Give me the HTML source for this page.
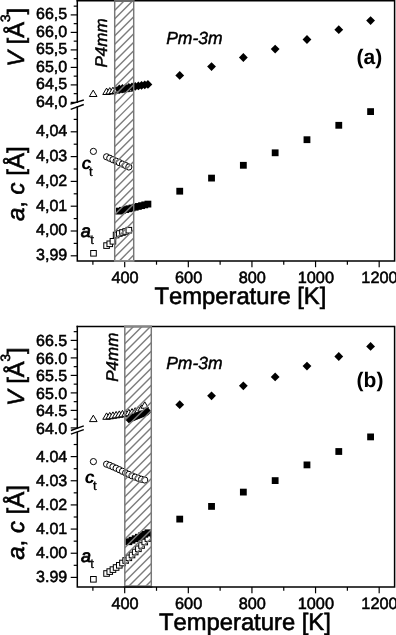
<!DOCTYPE html><html><head><meta charset="utf-8"><style>html,body{margin:0;padding:0;background:#fff;}svg{display:block;filter:grayscale(1) blur(0.3px);}</style></head><body>
<svg width="396" height="635" viewBox="0 0 396 635">
<rect width="396" height="635" fill="#fff"/>
<style>text{text-rendering:geometricPrecision;}</style>
<path d="M93.20 90.10L97.00 96.50L89.40 96.50Z" fill="#fff" stroke="#000" stroke-width="1" stroke-linejoin="miter"/>
<path d="M106.57 88.10L110.37 94.50L102.77 94.50Z" fill="#fff" stroke="#000" stroke-width="1" stroke-linejoin="miter"/>
<path d="M109.75 87.63L113.55 94.03L105.95 94.03Z" fill="#fff" stroke="#000" stroke-width="1" stroke-linejoin="miter"/>
<path d="M112.93 87.16L116.73 93.56L109.13 93.56Z" fill="#fff" stroke="#000" stroke-width="1" stroke-linejoin="miter"/>
<path d="M116.11 86.69L119.91 93.09L112.31 93.09Z" fill="#fff" stroke="#000" stroke-width="1" stroke-linejoin="miter"/>
<path d="M119.29 86.21L123.09 92.61L115.49 92.61Z" fill="#fff" stroke="#000" stroke-width="1" stroke-linejoin="miter"/>
<path d="M122.47 85.74L126.27 92.14L118.67 92.14Z" fill="#fff" stroke="#000" stroke-width="1" stroke-linejoin="miter"/>
<path d="M125.65 85.27L129.45 91.67L121.85 91.67Z" fill="#fff" stroke="#000" stroke-width="1" stroke-linejoin="miter"/>
<path d="M128.84 84.80L132.64 91.20L125.04 91.20Z" fill="#fff" stroke="#000" stroke-width="1" stroke-linejoin="miter"/>
<circle cx="93.40" cy="151.40" r="3.1" fill="#fff" stroke="#000" stroke-width="1"/>
<circle cx="106.57" cy="156.80" r="3.1" fill="#fff" stroke="#000" stroke-width="1"/>
<circle cx="109.75" cy="158.26" r="3.1" fill="#fff" stroke="#000" stroke-width="1"/>
<circle cx="112.93" cy="159.71" r="3.1" fill="#fff" stroke="#000" stroke-width="1"/>
<circle cx="116.11" cy="161.17" r="3.1" fill="#fff" stroke="#000" stroke-width="1"/>
<circle cx="119.29" cy="162.63" r="3.1" fill="#fff" stroke="#000" stroke-width="1"/>
<circle cx="122.47" cy="164.09" r="3.1" fill="#fff" stroke="#000" stroke-width="1"/>
<circle cx="125.65" cy="165.54" r="3.1" fill="#fff" stroke="#000" stroke-width="1"/>
<circle cx="128.84" cy="167.00" r="3.1" fill="#fff" stroke="#000" stroke-width="1"/>
<rect x="90.70" y="250.50" width="5.6" height="5.6" fill="#fff" stroke="#000" stroke-width="1"/>
<rect x="103.77" y="242.80" width="5.6" height="5.6" fill="#fff" stroke="#000" stroke-width="1"/>
<rect x="106.95" y="241.00" width="5.6" height="5.6" fill="#fff" stroke="#000" stroke-width="1"/>
<rect x="110.13" y="238.50" width="5.6" height="5.6" fill="#fff" stroke="#000" stroke-width="1"/>
<rect x="113.31" y="232.20" width="5.6" height="5.6" fill="#fff" stroke="#000" stroke-width="1"/>
<rect x="116.49" y="230.70" width="5.6" height="5.6" fill="#fff" stroke="#000" stroke-width="1"/>
<rect x="119.67" y="229.70" width="5.6" height="5.6" fill="#fff" stroke="#000" stroke-width="1"/>
<rect x="122.85" y="228.70" width="5.6" height="5.6" fill="#fff" stroke="#000" stroke-width="1"/>
<rect x="126.04" y="227.40" width="5.6" height="5.6" fill="#fff" stroke="#000" stroke-width="1"/>
<path d="M119.29 84.60L123.69 89.00L119.29 93.40L114.89 89.00Z" fill="#000"/>
<path d="M122.47 84.09L126.87 88.49L122.47 92.89L118.07 88.49Z" fill="#000"/>
<path d="M125.65 83.58L130.05 87.98L125.65 92.38L121.25 87.98Z" fill="#000"/>
<path d="M128.84 83.07L133.24 87.47L128.84 91.87L124.44 87.47Z" fill="#000"/>
<path d="M132.02 82.56L136.42 86.96L132.02 91.36L127.62 86.96Z" fill="#000"/>
<path d="M135.20 82.04L139.60 86.44L135.20 90.84L130.80 86.44Z" fill="#000"/>
<path d="M138.38 81.53L142.78 85.93L138.38 90.33L133.98 85.93Z" fill="#000"/>
<path d="M141.56 81.02L145.96 85.42L141.56 89.82L137.16 85.42Z" fill="#000"/>
<path d="M144.74 80.51L149.14 84.91L144.74 89.31L140.34 84.91Z" fill="#000"/>
<path d="M147.92 80.00L152.32 84.40L147.92 88.80L143.52 84.40Z" fill="#000"/>
<path d="M179.73 71.00L184.13 75.40L179.73 79.80L175.33 75.40Z" fill="#000"/>
<path d="M211.54 62.20L215.94 66.60L211.54 71.00L207.14 66.60Z" fill="#000"/>
<path d="M243.35 53.10L247.75 57.50L243.35 61.90L238.95 57.50Z" fill="#000"/>
<path d="M275.16 44.70L279.56 49.10L275.16 53.50L270.76 49.10Z" fill="#000"/>
<path d="M306.97 35.10L311.37 39.50L306.97 43.90L302.57 39.50Z" fill="#000"/>
<path d="M338.78 25.30L343.18 29.70L338.78 34.10L334.38 29.70Z" fill="#000"/>
<path d="M370.59 16.20L374.99 20.60L370.59 25.00L366.19 20.60Z" fill="#000"/>
<rect x="115.89" y="207.70" width="6.8" height="6.8" fill="#000"/>
<rect x="119.07" y="206.92" width="6.8" height="6.8" fill="#000"/>
<rect x="122.25" y="206.14" width="6.8" height="6.8" fill="#000"/>
<rect x="125.44" y="205.37" width="6.8" height="6.8" fill="#000"/>
<rect x="128.62" y="204.59" width="6.8" height="6.8" fill="#000"/>
<rect x="131.80" y="203.81" width="6.8" height="6.8" fill="#000"/>
<rect x="134.98" y="203.03" width="6.8" height="6.8" fill="#000"/>
<rect x="138.16" y="202.26" width="6.8" height="6.8" fill="#000"/>
<rect x="141.34" y="201.48" width="6.8" height="6.8" fill="#000"/>
<rect x="144.52" y="200.70" width="6.8" height="6.8" fill="#000"/>
<rect x="176.33" y="187.80" width="6.8" height="6.8" fill="#000"/>
<rect x="208.14" y="174.70" width="6.8" height="6.8" fill="#000"/>
<rect x="239.95" y="161.90" width="6.8" height="6.8" fill="#000"/>
<rect x="271.76" y="149.40" width="6.8" height="6.8" fill="#000"/>
<rect x="303.57" y="136.30" width="6.8" height="6.8" fill="#000"/>
<rect x="335.38" y="121.90" width="6.8" height="6.8" fill="#000"/>
<rect x="367.19" y="108.20" width="6.8" height="6.8" fill="#000"/>
<g stroke="#000" stroke-width="1.5" fill="none" stroke-linecap="square">
<path d="M77.3 0.7H394.6V260.9H77.3V106.9"/>
<path d="M77.3 0.7V102.2"/>
</g>
<g stroke="#000" stroke-width="1.2">
<path d="M92.89 260.9V264.70"/>
<path d="M124.70 260.9V267.20"/>
<path d="M156.51 260.9V264.70"/>
<path d="M188.32 260.9V267.20"/>
<path d="M220.13 260.9V264.70"/>
<path d="M251.94 260.9V267.20"/>
<path d="M283.75 260.9V264.70"/>
<path d="M315.56 260.9V267.20"/>
<path d="M347.37 260.9V264.70"/>
<path d="M379.18 260.9V267.20"/>
<path d="M77.3 93.65H73.70"/>
<path d="M77.3 84.90H70.70"/>
<path d="M77.3 76.15H73.70"/>
<path d="M77.3 67.40H70.70"/>
<path d="M77.3 58.65H73.70"/>
<path d="M77.3 49.90H70.70"/>
<path d="M77.3 41.15H73.70"/>
<path d="M77.3 32.40H70.70"/>
<path d="M77.3 23.65H73.70"/>
<path d="M77.3 14.90H70.70"/>
<path d="M77.3 6.15H73.70"/>
<path d="M77.3 255.80H70.70"/>
<path d="M77.3 243.40H73.70"/>
<path d="M77.3 231.00H70.70"/>
<path d="M77.3 218.60H73.70"/>
<path d="M77.3 206.20H70.70"/>
<path d="M77.3 193.80H73.70"/>
<path d="M77.3 181.40H70.70"/>
<path d="M77.3 169.00H73.70"/>
<path d="M77.3 156.60H70.70"/>
<path d="M77.3 144.20H73.70"/>
<path d="M77.3 131.80H70.70"/>
<path d="M77.3 119.40H73.70"/>
<path d="M77.3 102.40H70.70"/>
</g>
<g stroke="#000" stroke-width="1.4">
<path d="M70.4 104.1L83.8 100.0"/>
<path d="M70.7 109.3L83.8 104.5"/>
</g>
<clipPath id="clipa"><rect x="114.7" y="0.7" width="18.999999999999986" height="260.2"/></clipPath>
<g clip-path="url(#clipa)" stroke="#7c7c7c" stroke-width="1.4">
<path d="M109.70 15.30L138.70 -13.70"/>
<path d="M109.70 23.81L138.70 -5.19"/>
<path d="M109.70 32.32L138.70 3.32"/>
<path d="M109.70 40.83L138.70 11.83"/>
<path d="M109.70 49.34L138.70 20.34"/>
<path d="M109.70 57.85L138.70 28.85"/>
<path d="M109.70 66.36L138.70 37.36"/>
<path d="M109.70 74.87L138.70 45.87"/>
<path d="M109.70 83.38L138.70 54.38"/>
<path d="M109.70 91.89L138.70 62.89"/>
<path d="M109.70 100.40L138.70 71.40"/>
<path d="M109.70 108.91L138.70 79.91"/>
<path d="M109.70 117.42L138.70 88.42"/>
<path d="M109.70 125.93L138.70 96.93"/>
<path d="M109.70 134.44L138.70 105.44"/>
<path d="M109.70 142.95L138.70 113.95"/>
<path d="M109.70 151.46L138.70 122.46"/>
<path d="M109.70 159.97L138.70 130.97"/>
<path d="M109.70 168.48L138.70 139.48"/>
<path d="M109.70 176.99L138.70 147.99"/>
<path d="M109.70 185.50L138.70 156.50"/>
<path d="M109.70 194.01L138.70 165.01"/>
<path d="M109.70 202.52L138.70 173.52"/>
<path d="M109.70 211.03L138.70 182.03"/>
<path d="M109.70 219.54L138.70 190.54"/>
<path d="M109.70 228.05L138.70 199.05"/>
<path d="M109.70 236.56L138.70 207.56"/>
<path d="M109.70 245.07L138.70 216.07"/>
<path d="M109.70 253.58L138.70 224.58"/>
<path d="M109.70 262.09L138.70 233.09"/>
<path d="M109.70 270.60L138.70 241.60"/>
<path d="M109.70 279.11L138.70 250.11"/>
<path d="M109.70 287.62L138.70 258.62"/>
</g>
<rect x="114.7" y="0.7" width="18.999999999999986" height="260.2" fill="none" stroke="#777" stroke-width="1.45"/>
<path d="M114.10000000000001 0.7H134.29999999999998" stroke="#666" stroke-width="1.7"/>
<path d="M114.10000000000001 260.9H134.29999999999998" stroke="#8c8c8c" stroke-width="1.7"/>
<g style='font-family:"Liberation Sans", sans-serif;font-size:16px' fill="#000" stroke="#000" stroke-width="0.55" text-anchor="end">
<text x="67.2" y="106.80">64,0</text>
<text x="67.2" y="89.30">64,5</text>
<text x="67.2" y="71.80">65,0</text>
<text x="67.2" y="54.30">65,5</text>
<text x="67.2" y="36.80">66,0</text>
<text x="67.2" y="19.30">66,5</text>
<text x="67.2" y="260.20">3,99</text>
<text x="67.2" y="235.40">4,00</text>
<text x="67.2" y="210.60">4,01</text>
<text x="67.2" y="185.80">4,02</text>
<text x="67.2" y="161.00">4,03</text>
<text x="67.2" y="136.20">4,04</text>
</g>
<g style='font-family:"Liberation Sans", sans-serif;font-size:16.3px' fill="#000" stroke="#000" stroke-width="0.55" text-anchor="middle">
<text x="125.00" y="283.10">400</text>
<text x="188.62" y="283.10">600</text>
<text x="252.24" y="283.10">800</text>
<text x="315.86" y="283.10">1000</text>
<text x="379.48" y="283.10">1200</text>
</g>
<text x="154.4" y="303.8" stroke="#000" stroke-width="0.6" style='font-family:"Liberation Sans", sans-serif;font-size:23.8px;font-kerning:none'>Temperature [K]</text>
<text transform="translate(23.6,66.70) rotate(-90)" stroke="#000" stroke-width="0.6" style='font-family:"Liberation Sans", sans-serif;font-size:23.6px'><tspan style="font-style:italic">V</tspan> [Å<tspan dy="-13.3" style="font-size:13.5px">3</tspan><tspan dy="13.3">]</tspan></text>
<text transform="translate(24,221.10) rotate(-90)" stroke="#000" stroke-width="0.6" style='font-family:"Liberation Sans", sans-serif;font-size:24px'><tspan style="font-style:italic">a</tspan>, <tspan style="font-style:italic">c</tspan> [Å]</text>
<text transform="translate(107,67.5) rotate(-90)" stroke="#000" stroke-width="0.45" style='font-family:"Liberation Sans", sans-serif;font-size:17px;font-style:italic'>P4mm</text>
<text x="166.2" y="43.8" stroke="#000" stroke-width="0.45" style='font-family:"Liberation Sans", sans-serif;font-size:17.5px;font-style:italic'>Pm-3m</text>
<text x="356.6" y="63.9" style='font-family:"Liberation Sans", sans-serif;font-size:21px;font-weight:bold'>(a)</text>
<text x="81.4" y="169" style='font-family:"Liberation Sans", sans-serif;font-size:17.6px;font-weight:bold;font-style:italic'>c</text>
<text x="89.1" y="175.7" stroke="#000" stroke-width="0.35" style='font-family:"Liberation Sans", sans-serif;font-size:13px'>t</text>
<text x="80.8" y="236.5" stroke="#000" stroke-width="0.8" style='font-family:"Liberation Sans", sans-serif;font-size:18px;font-style:italic'>a</text>
<text x="90.2" y="243.6" stroke="#000" stroke-width="0.35" style='font-family:"Liberation Sans", sans-serif;font-size:13px'>t</text>
<path d="M93.30 415.20L97.10 421.60L89.50 421.60Z" fill="#fff" stroke="#000" stroke-width="1" stroke-linejoin="miter"/>
<path d="M106.57 412.90L110.37 419.30L102.77 419.30Z" fill="#fff" stroke="#000" stroke-width="1" stroke-linejoin="miter"/>
<path d="M109.75 412.40L113.55 418.80L105.95 418.80Z" fill="#fff" stroke="#000" stroke-width="1" stroke-linejoin="miter"/>
<path d="M112.93 411.90L116.73 418.30L109.13 418.30Z" fill="#fff" stroke="#000" stroke-width="1" stroke-linejoin="miter"/>
<path d="M116.11 411.40L119.91 417.80L112.31 417.80Z" fill="#fff" stroke="#000" stroke-width="1" stroke-linejoin="miter"/>
<path d="M119.29 410.90L123.09 417.30L115.49 417.30Z" fill="#fff" stroke="#000" stroke-width="1" stroke-linejoin="miter"/>
<path d="M122.47 410.40L126.27 416.80L118.67 416.80Z" fill="#fff" stroke="#000" stroke-width="1" stroke-linejoin="miter"/>
<path d="M125.65 409.90L129.45 416.30L121.85 416.30Z" fill="#fff" stroke="#000" stroke-width="1" stroke-linejoin="miter"/>
<path d="M128.84 409.30L132.64 415.70L125.04 415.70Z" fill="#fff" stroke="#000" stroke-width="1" stroke-linejoin="miter"/>
<path d="M132.02 408.60L135.82 415.00L128.22 415.00Z" fill="#fff" stroke="#000" stroke-width="1" stroke-linejoin="miter"/>
<path d="M135.20 407.70L139.00 414.10L131.40 414.10Z" fill="#fff" stroke="#000" stroke-width="1" stroke-linejoin="miter"/>
<path d="M138.38 406.50L142.18 412.90L134.58 412.90Z" fill="#fff" stroke="#000" stroke-width="1" stroke-linejoin="miter"/>
<path d="M141.56 404.80L145.36 411.20L137.76 411.20Z" fill="#fff" stroke="#000" stroke-width="1" stroke-linejoin="miter"/>
<path d="M144.74 401.80L148.54 408.20L140.94 408.20Z" fill="#fff" stroke="#000" stroke-width="1" stroke-linejoin="miter"/>
<circle cx="93.40" cy="461.60" r="3.1" fill="#fff" stroke="#000" stroke-width="1"/>
<circle cx="106.57" cy="464.20" r="3.1" fill="#fff" stroke="#000" stroke-width="1"/>
<circle cx="109.75" cy="465.40" r="3.1" fill="#fff" stroke="#000" stroke-width="1"/>
<circle cx="112.93" cy="466.80" r="3.1" fill="#fff" stroke="#000" stroke-width="1"/>
<circle cx="116.11" cy="468.20" r="3.1" fill="#fff" stroke="#000" stroke-width="1"/>
<circle cx="119.29" cy="469.70" r="3.1" fill="#fff" stroke="#000" stroke-width="1"/>
<circle cx="122.47" cy="471.30" r="3.1" fill="#fff" stroke="#000" stroke-width="1"/>
<circle cx="125.65" cy="472.90" r="3.1" fill="#fff" stroke="#000" stroke-width="1"/>
<circle cx="128.84" cy="474.40" r="3.1" fill="#fff" stroke="#000" stroke-width="1"/>
<circle cx="132.02" cy="475.80" r="3.1" fill="#fff" stroke="#000" stroke-width="1"/>
<circle cx="135.20" cy="477.10" r="3.1" fill="#fff" stroke="#000" stroke-width="1"/>
<circle cx="138.38" cy="478.30" r="3.1" fill="#fff" stroke="#000" stroke-width="1"/>
<circle cx="141.56" cy="479.30" r="3.1" fill="#fff" stroke="#000" stroke-width="1"/>
<circle cx="144.74" cy="480.00" r="3.1" fill="#fff" stroke="#000" stroke-width="1"/>
<rect x="90.60" y="576.50" width="5.6" height="5.6" fill="#fff" stroke="#000" stroke-width="1"/>
<rect x="103.77" y="570.70" width="5.6" height="5.6" fill="#fff" stroke="#000" stroke-width="1"/>
<rect x="106.95" y="568.80" width="5.6" height="5.6" fill="#fff" stroke="#000" stroke-width="1"/>
<rect x="110.13" y="566.80" width="5.6" height="5.6" fill="#fff" stroke="#000" stroke-width="1"/>
<rect x="113.31" y="564.70" width="5.6" height="5.6" fill="#fff" stroke="#000" stroke-width="1"/>
<rect x="116.49" y="562.50" width="5.6" height="5.6" fill="#fff" stroke="#000" stroke-width="1"/>
<rect x="119.67" y="560.20" width="5.6" height="5.6" fill="#fff" stroke="#000" stroke-width="1"/>
<rect x="122.85" y="557.70" width="5.6" height="5.6" fill="#fff" stroke="#000" stroke-width="1"/>
<rect x="126.04" y="555.00" width="5.6" height="5.6" fill="#fff" stroke="#000" stroke-width="1"/>
<rect x="129.22" y="552.20" width="5.6" height="5.6" fill="#fff" stroke="#000" stroke-width="1"/>
<rect x="132.40" y="549.20" width="5.6" height="5.6" fill="#fff" stroke="#000" stroke-width="1"/>
<rect x="135.58" y="546.00" width="5.6" height="5.6" fill="#fff" stroke="#000" stroke-width="1"/>
<rect x="138.76" y="542.70" width="5.6" height="5.6" fill="#fff" stroke="#000" stroke-width="1"/>
<rect x="141.94" y="539.20" width="5.6" height="5.6" fill="#fff" stroke="#000" stroke-width="1"/>
<rect x="145.12" y="535.80" width="5.6" height="5.6" fill="#fff" stroke="#000" stroke-width="1"/>
<path d="M128.84 415.40L132.74 419.30L128.84 423.20L124.94 419.30Z" fill="#000"/>
<path d="M129.79 415.02L133.69 418.92L129.79 422.81L125.89 418.92Z" fill="#000"/>
<path d="M130.74 414.63L134.64 418.53L130.74 422.43L126.84 418.53Z" fill="#000"/>
<path d="M131.70 414.25L135.60 418.15L131.70 422.05L127.80 418.15Z" fill="#000"/>
<path d="M132.65 413.86L136.55 417.76L132.65 421.66L128.75 417.76Z" fill="#000"/>
<path d="M133.61 413.48L137.51 417.38L133.61 421.27L129.71 417.38Z" fill="#000"/>
<path d="M134.56 413.09L138.46 416.99L134.56 420.89L130.66 416.99Z" fill="#000"/>
<path d="M135.52 412.71L139.42 416.61L135.52 420.50L131.62 416.61Z" fill="#000"/>
<path d="M136.47 412.32L140.37 416.22L136.47 420.12L132.57 416.22Z" fill="#000"/>
<path d="M137.42 411.94L141.32 415.84L137.42 419.74L133.52 415.84Z" fill="#000"/>
<path d="M138.38 411.55L142.28 415.45L138.38 419.35L134.48 415.45Z" fill="#000"/>
<path d="M139.33 411.17L143.23 415.06L139.33 418.96L135.43 415.06Z" fill="#000"/>
<path d="M140.29 410.78L144.19 414.68L140.29 418.58L136.39 414.68Z" fill="#000"/>
<path d="M141.24 410.40L145.14 414.30L141.24 418.19L137.34 414.30Z" fill="#000"/>
<path d="M142.20 410.01L146.10 413.91L142.20 417.81L138.30 413.91Z" fill="#000"/>
<path d="M143.15 409.63L147.05 413.53L143.15 417.43L139.25 413.53Z" fill="#000"/>
<path d="M144.10 409.24L148.00 413.14L144.10 417.04L140.20 413.14Z" fill="#000"/>
<path d="M145.06 408.86L148.96 412.75L145.06 416.65L141.16 412.75Z" fill="#000"/>
<path d="M146.01 408.47L149.91 412.37L146.01 416.27L142.11 412.37Z" fill="#000"/>
<path d="M146.97 408.09L150.87 411.99L146.97 415.88L143.07 411.99Z" fill="#000"/>
<path d="M147.92 407.70L151.82 411.60L147.92 415.50L144.02 411.60Z" fill="#000"/>
<path d="M179.73 400.30L184.13 404.70L179.73 409.10L175.33 404.70Z" fill="#000"/>
<path d="M211.54 391.40L215.94 395.80L211.54 400.20L207.14 395.80Z" fill="#000"/>
<path d="M243.35 381.40L247.75 385.80L243.35 390.20L238.95 385.80Z" fill="#000"/>
<path d="M275.16 372.50L279.56 376.90L275.16 381.30L270.76 376.90Z" fill="#000"/>
<path d="M306.97 361.70L311.37 366.10L306.97 370.50L302.57 366.10Z" fill="#000"/>
<path d="M338.78 352.10L343.18 356.50L338.78 360.90L334.38 356.50Z" fill="#000"/>
<path d="M370.59 342.00L374.99 346.40L370.59 350.80L366.19 346.40Z" fill="#000"/>
<rect x="125.44" y="538.30" width="6.8" height="6.8" fill="#000"/>
<rect x="128.62" y="536.82" width="6.8" height="6.8" fill="#000"/>
<rect x="131.80" y="535.33" width="6.8" height="6.8" fill="#000"/>
<rect x="134.98" y="533.85" width="6.8" height="6.8" fill="#000"/>
<rect x="138.16" y="532.37" width="6.8" height="6.8" fill="#000"/>
<rect x="141.34" y="530.88" width="6.8" height="6.8" fill="#000"/>
<rect x="144.52" y="529.40" width="6.8" height="6.8" fill="#000"/>
<rect x="176.33" y="515.70" width="6.8" height="6.8" fill="#000"/>
<rect x="208.14" y="503.00" width="6.8" height="6.8" fill="#000"/>
<rect x="239.95" y="488.70" width="6.8" height="6.8" fill="#000"/>
<rect x="271.76" y="477.20" width="6.8" height="6.8" fill="#000"/>
<rect x="303.57" y="461.50" width="6.8" height="6.8" fill="#000"/>
<rect x="335.38" y="448.10" width="6.8" height="6.8" fill="#000"/>
<rect x="367.19" y="433.50" width="6.8" height="6.8" fill="#000"/>
<g stroke="#000" stroke-width="1.5" fill="none" stroke-linecap="square">
<path d="M77.3 326.5H394.6V587.0H77.3V432.5"/>
<path d="M77.3 326.5V428.0"/>
</g>
<g stroke="#000" stroke-width="1.2">
<path d="M92.89 587.0V590.80"/>
<path d="M124.70 587.0V593.30"/>
<path d="M156.51 587.0V590.80"/>
<path d="M188.32 587.0V593.30"/>
<path d="M220.13 587.0V590.80"/>
<path d="M251.94 587.0V593.30"/>
<path d="M283.75 587.0V590.80"/>
<path d="M315.56 587.0V593.30"/>
<path d="M347.37 587.0V590.80"/>
<path d="M379.18 587.0V593.30"/>
<path d="M77.3 419.15H73.70"/>
<path d="M77.3 410.40H70.70"/>
<path d="M77.3 401.65H73.70"/>
<path d="M77.3 392.90H70.70"/>
<path d="M77.3 384.15H73.70"/>
<path d="M77.3 375.40H70.70"/>
<path d="M77.3 366.65H73.70"/>
<path d="M77.3 357.90H70.70"/>
<path d="M77.3 349.15H73.70"/>
<path d="M77.3 340.40H70.70"/>
<path d="M77.3 331.65H73.70"/>
<path d="M77.3 577.40H70.70"/>
<path d="M77.3 565.32H73.70"/>
<path d="M77.3 553.24H70.70"/>
<path d="M77.3 541.16H73.70"/>
<path d="M77.3 529.08H70.70"/>
<path d="M77.3 517.00H73.70"/>
<path d="M77.3 504.92H70.70"/>
<path d="M77.3 492.84H73.70"/>
<path d="M77.3 480.76H70.70"/>
<path d="M77.3 468.68H73.70"/>
<path d="M77.3 456.60H70.70"/>
<path d="M77.3 444.52H73.70"/>
<path d="M77.3 427.90H70.70"/>
</g>
<g stroke="#000" stroke-width="1.4">
<path d="M70.9 430.5L83.8 425.9"/>
<path d="M70.9 434.2L83.8 429.7"/>
</g>
<clipPath id="clipb"><rect x="124.8" y="326.5" width="26.500000000000014" height="260.5"/></clipPath>
<g clip-path="url(#clipb)" stroke="#7c7c7c" stroke-width="1.4">
<path d="M119.80 340.20L156.30 303.70"/>
<path d="M119.80 348.70L156.30 312.20"/>
<path d="M119.80 357.20L156.30 320.70"/>
<path d="M119.80 365.70L156.30 329.20"/>
<path d="M119.80 374.20L156.30 337.70"/>
<path d="M119.80 382.70L156.30 346.20"/>
<path d="M119.80 391.20L156.30 354.70"/>
<path d="M119.80 399.70L156.30 363.20"/>
<path d="M119.80 408.20L156.30 371.70"/>
<path d="M119.80 416.70L156.30 380.20"/>
<path d="M119.80 425.20L156.30 388.70"/>
<path d="M119.80 433.70L156.30 397.20"/>
<path d="M119.80 442.20L156.30 405.70"/>
<path d="M119.80 450.70L156.30 414.20"/>
<path d="M119.80 459.20L156.30 422.70"/>
<path d="M119.80 467.70L156.30 431.20"/>
<path d="M119.80 476.20L156.30 439.70"/>
<path d="M119.80 484.70L156.30 448.20"/>
<path d="M119.80 493.20L156.30 456.70"/>
<path d="M119.80 501.70L156.30 465.20"/>
<path d="M119.80 510.20L156.30 473.70"/>
<path d="M119.80 518.70L156.30 482.20"/>
<path d="M119.80 527.20L156.30 490.70"/>
<path d="M119.80 535.70L156.30 499.20"/>
<path d="M119.80 544.20L156.30 507.70"/>
<path d="M119.80 552.70L156.30 516.20"/>
<path d="M119.80 561.20L156.30 524.70"/>
<path d="M119.80 569.70L156.30 533.20"/>
<path d="M119.80 578.20L156.30 541.70"/>
<path d="M119.80 586.70L156.30 550.20"/>
<path d="M119.80 595.20L156.30 558.70"/>
<path d="M119.80 603.70L156.30 567.20"/>
<path d="M119.80 612.20L156.30 575.70"/>
<path d="M119.80 620.70L156.30 584.20"/>
</g>
<rect x="124.8" y="326.5" width="26.500000000000014" height="260.5" fill="none" stroke="#777" stroke-width="1.45"/>
<path d="M124.2 326.5H151.9" stroke="#858585" stroke-width="1.7"/>
<path d="M124.2 585.8H151.9" stroke="#8c8c8c" stroke-width="1.2"/>
<path d="M123.8 587.0H152.3" stroke="#000" stroke-width="1.5"/>
<g style='font-family:"Liberation Sans", sans-serif;font-size:16px' fill="#000" stroke="#000" stroke-width="0.55" text-anchor="end">
<text x="67.2" y="433.70">64.0</text>
<text x="67.2" y="416.20">64.5</text>
<text x="67.2" y="398.70">65.0</text>
<text x="67.2" y="381.20">65.5</text>
<text x="67.2" y="363.70">66.0</text>
<text x="67.2" y="346.20">66.5</text>
<text x="67.2" y="582.30">3.99</text>
<text x="67.2" y="558.14">4.00</text>
<text x="67.2" y="533.98">4.01</text>
<text x="67.2" y="509.82">4.02</text>
<text x="67.2" y="485.66">4.03</text>
<text x="67.2" y="461.50">4.04</text>
</g>
<g style='font-family:"Liberation Sans", sans-serif;font-size:16.3px' fill="#000" stroke="#000" stroke-width="0.55" text-anchor="middle">
<text x="125.00" y="609.20">400</text>
<text x="188.62" y="609.20">600</text>
<text x="252.24" y="609.20">800</text>
<text x="315.86" y="609.20">1000</text>
<text x="379.48" y="609.20">1200</text>
</g>
<text x="158.9" y="630.0" stroke="#000" stroke-width="0.6" style='font-family:"Liberation Sans", sans-serif;font-size:23.8px;font-kerning:none'>Temperature [K]</text>
<text transform="translate(23.6,406.00) rotate(-90)" stroke="#000" stroke-width="0.6" style='font-family:"Liberation Sans", sans-serif;font-size:23.6px'><tspan style="font-style:italic">V</tspan> [Å<tspan dy="-13.3" style="font-size:13.5px">3</tspan><tspan dy="13.3">]</tspan></text>
<text transform="translate(24,559.80) rotate(-90)" stroke="#000" stroke-width="0.6" style='font-family:"Liberation Sans", sans-serif;font-size:24px'><tspan style="font-style:italic">a</tspan>, <tspan style="font-style:italic">c</tspan> [Å]</text>
<text transform="translate(117.5,381.8) rotate(-90)" stroke="#000" stroke-width="0.45" style='font-family:"Liberation Sans", sans-serif;font-size:17px;font-style:italic'>P4mm</text>
<text x="166.2" y="368.5" stroke="#000" stroke-width="0.45" style='font-family:"Liberation Sans", sans-serif;font-size:17.5px;font-style:italic'>Pm-3m</text>
<text x="356.6" y="386.5" style='font-family:"Liberation Sans", sans-serif;font-size:21px;font-weight:bold'>(b)</text>
<text x="84.8" y="482.6" style='font-family:"Liberation Sans", sans-serif;font-size:17.6px;font-weight:bold;font-style:italic'>c</text>
<text x="92.9" y="489.8" stroke="#000" stroke-width="0.35" style='font-family:"Liberation Sans", sans-serif;font-size:13px'>t</text>
<text x="81.0" y="561.9" stroke="#000" stroke-width="0.8" style='font-family:"Liberation Sans", sans-serif;font-size:18px;font-style:italic'>a</text>
<text x="90.2" y="568.4" stroke="#000" stroke-width="0.35" style='font-family:"Liberation Sans", sans-serif;font-size:13px'>t</text>
</svg></body></html>
